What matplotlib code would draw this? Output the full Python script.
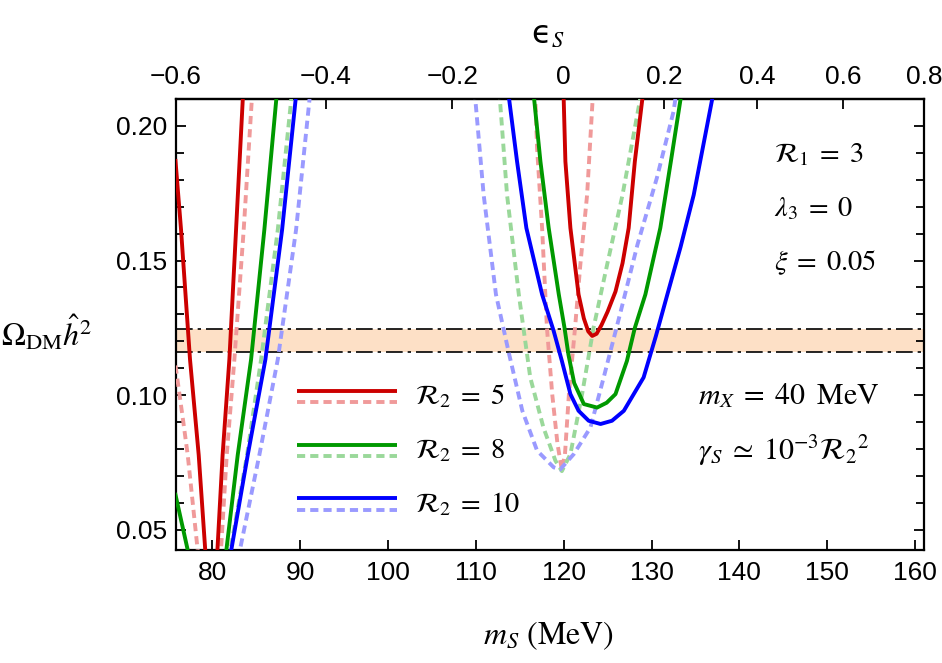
import numpy as np
import matplotlib
matplotlib.use("Agg")
import matplotlib.pyplot as plt

plt.rcParams['mathtext.fontset'] = 'stix'
plt.rcParams['font.family'] = ['Liberation Sans', 'DejaVu Sans']

nan = np.nan

# ---------------- data (m_S in MeV, Omega h^2) ----------------
# R2 = 5, solid
r5_m = [75.84, 76.47, 77.49, 78.48, 79.23, 79.35, nan,
        80.55, 81.2, 81.97, 82.73, 83.49, 83.52, nan,
        119.98, 120.2, 120.77, 121.7, 122.3, 122.8, 123.25, 123.75, 124.3, 125.0, 125.9, 126.7, 127.4, 128.1, 128.95, 129.0]
r5_y = [0.187, 0.1615, 0.1133, 0.0778, 0.0422, 0.037, nan,
        0.039, 0.0778, 0.1133, 0.1615, 0.2096, 0.213, nan,
        0.213, 0.1868, 0.1621, 0.1374, 0.1285, 0.1237, 0.1220, 0.1228, 0.1260, 0.1310, 0.1385, 0.149, 0.1621, 0.1868, 0.2099, 0.213]
# R2 = 5, dashed
r5d_m = [75.84, 76.73, 77.23, 78.37, 78.5, nan,
         80.95, 81.67, 82.54, 83.6, 84.52, 84.55, nan,
         116.75, 116.98, 117.55, 118.1, 118.7, 119.3, 119.8, 120.15, 120.6, 121.3, 121.9, 122.67, 123.3, 123.35]
r5d_y = [0.111, 0.090, 0.0778, 0.0422, 0.038, nan,
         0.039, 0.0778, 0.1133, 0.1615, 0.2096, 0.213, nan,
         0.213, 0.1917, 0.1621, 0.125, 0.1004, 0.0819, 0.0722, 0.078, 0.1004, 0.1251, 0.1485, 0.1744, 0.2099, 0.213]
# R2 = 8, solid
r8_m = [75.84, 77.25, 77.4, nan,
        81.5, 82.92, 84.44, 85.95, 87.3, 87.33, nan,
        116.55, 117.36, 118.3, 119.45, 120.1, 120.55, 121.2, 122.3, 123.8, 124.9, 125.9, 127.2, 128.1, 129.3, 131.0, 132.2, 133.3, 133.35]
r8_y = [0.063, 0.0422, 0.040, nan,
        0.039, 0.0778, 0.1133, 0.1615, 0.2096, 0.213, nan,
        0.213, 0.1868, 0.1621, 0.1374, 0.125, 0.115, 0.1045, 0.0967, 0.0954, 0.0972, 0.1004, 0.1127, 0.125, 0.1374, 0.1621, 0.1868, 0.2099, 0.213]
# R2 = 8, dashed
r8d_m = [81.9, 83.98, 85.58, 87.48, 89.0, 89.03, nan,
         112.7, 112.75, 113.56, 114.9, 116.2, 117.7, 119.06, 119.8, 120.77, 122.1, 123.4, 124.95, 126.7, 128.7, 128.8]
r8d_y = [0.039, 0.0778, 0.1133, 0.1615, 0.2096, 0.213, nan,
         0.213, 0.2099, 0.1744, 0.1374, 0.1066, 0.088, 0.0757, 0.0718, 0.0781, 0.1004, 0.125, 0.1485, 0.1744, 0.2099, 0.213]
# R2 = 10, solid
r10_m = [82.0, 84.06, 86.07, 87.97, 89.5, 89.53, nan,
         113.75, 113.8, 114.7, 115.76, 117.55, 118.87, 119.8, 120.77, 121.7, 122.85, 124.2, 125.5, 126.85, 129.1, 130.5, 131.8, 133.3, 134.8, 136.9, 137.0]
r10_y = [0.039, 0.0778, 0.1133, 0.1615, 0.2096, 0.213, nan,
         0.213, 0.2099, 0.1868, 0.1621, 0.1374, 0.1238, 0.1127, 0.1004, 0.0942, 0.0905, 0.0893, 0.0905, 0.0942, 0.1066, 0.122, 0.1374, 0.155, 0.1744, 0.2099, 0.213]
# R2 = 10, dashed
r10d_m = [82.95, 85.38, 87.48, 89.56, 91.08, 91.11, nan,
          109.9, 109.95, 110.9, 112.3, 113.8, 115.3, 116.98, 118.87, 119.6, 121.15, 123.05, 124.56, 126.5, 128.4, 130.6, 132.5, 132.85]
r10d_y = [0.039, 0.0778, 0.1133, 0.1615, 0.2096, 0.213, nan,
          0.213, 0.2099, 0.1744, 0.1374, 0.1152, 0.0942, 0.0794, 0.0732, 0.0724, 0.0781, 0.088, 0.1066, 0.1312, 0.1559, 0.1806, 0.2053, 0.213]

band_lo, band_hi = 0.1159, 0.1244
x_ticks = [80, 90, 100, 110, 120, 130, 140, 150, 160]
y_ticks = [0.05, 0.10, 0.15, 0.20]
eps_ticks = [-0.6, -0.4, -0.2, 0.0, 0.2, 0.4, 0.6, 0.8]
legend_labels = [r'$\mathcal{R}_2\;=\;5$', r'$\mathcal{R}_2\;=\;8$', r'$\mathcal{R}_2\;=\;10$']

# ---------------- figure ----------------
W, H = 942, 663
fig = plt.figure(figsize=(W / 100, H / 100), dpi=100)
L, R, T, B = 175.5, 924, 99, 550
ax = fig.add_axes([L / W, 1 - B / H, (R - L) / W, (B - T) / H])
xmin, xmax = 75.84, 161.0
ax.set_xlim(xmin, xmax)
ax.set_ylim(0.0425, 0.21)

# band
ax.axhspan(band_lo, band_hi, color='#fde0c6', lw=0, zorder=1)
for yv in (band_lo, band_hi):
    ax.axhline(yv, color='black', lw=1.2, dashes=(10, 3, 2, 3), zorder=2)

red, green, blue = '#cc0000', '#009900', '#0000ff'
lred, lgreen, lblue = '#f09a9a', '#9ad89a', '#9a9aff'
lw = 2.8
dash = (2.1, 1.3)

ax.plot(r5d_m, r5d_y, color=lred, lw=lw, dashes=dash, zorder=3)
ax.plot(r8d_m, r8d_y, color=lgreen, lw=lw, dashes=dash, zorder=3)
ax.plot(r10d_m, r10d_y, color=lblue, lw=lw, dashes=dash, zorder=3)
ax.plot(r5_m, r5_y, color=red, lw=lw, zorder=4)
ax.plot(r8_m, r8_y, color=green, lw=lw, zorder=4)
ax.plot(r10_m, r10_y, color=blue, lw=lw, zorder=4)

# manual legend
def ax_x(px):
    return (px - L) / (R - L)

def ax_y(py):
    return (B - py) / (B - T)

leg = [(red, lred, 390.7, 401.7, 397), (green, lgreen, 445, 456, 451), (blue, lblue, 498, 510, 505)]
for (c, lc, ys, yd, yt), lab in zip(leg, legend_labels):
    ax.plot([ax_x(297), ax_x(397)], [ax_y(ys)] * 2, color=c, lw=lw, transform=ax.transAxes,
            zorder=5, solid_capstyle='butt')
    ax.plot([ax_x(297), ax_x(397)], [ax_y(yd)] * 2, color=lc, lw=lw, dashes=dash, transform=ax.transAxes,
            zorder=5)
    ax.text(ax_x(415), ax_y(yt), lab, transform=ax.transAxes, fontsize=20.5, va='center', ha='left')

# annotations
ann_kw = dict(transform=ax.transAxes, fontsize=20.5, ha='left', va='center')
ax.text(ax_x(774), ax_y(155), r'$\mathcal{R}_1\;=\;3$', **ann_kw)
ax.text(ax_x(774), ax_y(209), r'$\lambda_3\;=\;0$', **ann_kw)
ax.text(ax_x(774), ax_y(263), r'$\xi\;=\;0.05$', **ann_kw)
ann_kw['fontsize'] = 21.5
ax.text(ax_x(698), ax_y(396), r'$m_X\;=\;40\;\;\mathrm{MeV}$', **ann_kw)
ax.text(ax_x(698), ax_y(451), r'$\gamma_S\;\simeq\;10^{-3}\mathcal{R}_2{}^2$', **ann_kw)

# ticks
ax.set_xticks(x_ticks)
ax.set_yticks(y_ticks)
ax.set_yticklabels([f'{v:.2f}' for v in y_ticks])
ax.yaxis.set_minor_locator(matplotlib.ticker.MultipleLocator(0.01))
ax.tick_params(axis='both', which='both', direction='in', labelsize=19, width=1.3)
ax.tick_params(axis='both', which='major', length=7)
ax.tick_params(axis='y', which='minor', length=6)
ax.tick_params(axis='y', which='both', right=True)
ax.tick_params(axis='x', which='both', top=False, pad=8)
ax.tick_params(axis='y', which='both', pad=6)
for s in ax.spines.values():
    s.set_linewidth(1.6)

def fwd(m):
    return (np.asarray(m) / 120.0) ** 2 - 1

def inv(e):
    return 120.0 * np.sqrt(np.clip(1 + np.asarray(e), 1e-9, None))

sec = ax.secondary_xaxis('top', functions=(fwd, inv))
sec.set_xticks(eps_ticks)
sec.set_xticklabels(['0' if abs(v) < 1e-9 else f'{v:.1f}'.replace('-', '\u2212') for v in eps_ticks])
sec.tick_params(direction='in', length=7, width=1.3, labelsize=19, pad=7)
sec.spines['top'].set_linewidth(1.6)

fig.text(548 / W, 1 - 34 / H, '\u03f5$_S$', fontsize=23, ha='center', va='center',
         family=['DejaVu Sans'])
fig.text(548 / W, 1 - 636 / H, r'$m_S\ \mathrm{(MeV)}$', fontsize=23, ha='center', va='center')
fig.text(46 / W, 1 - 333 / H, r'$\Omega_{\mathrm{DM}}\hat{h}^2$', fontsize=23, ha='center', va='center')

fig.savefig('out.png', dpi=100)
